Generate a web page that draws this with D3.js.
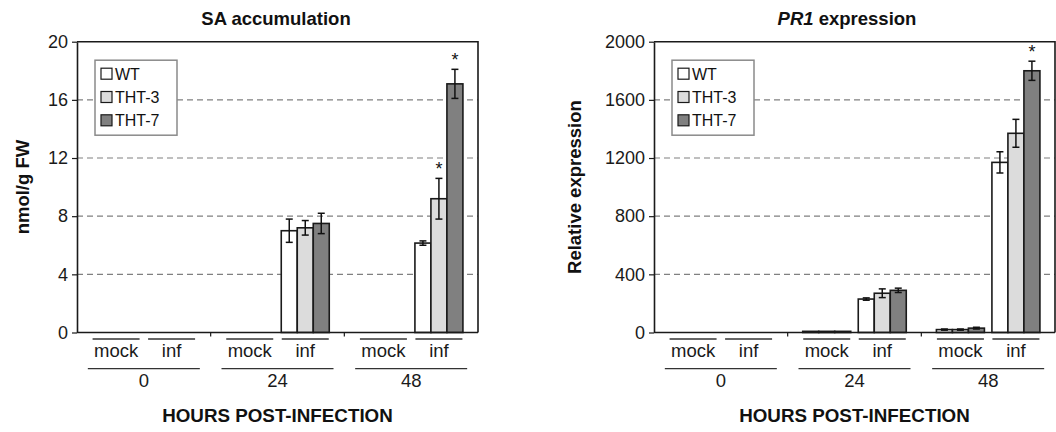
<!DOCTYPE html>
<html>
<head>
<meta charset="utf-8">
<script src="https://cdn.jsdelivr.net/npm/d3@7"></script>
<style>
  html, body { margin: 0; padding: 0; background: #fff; }
  svg { display: block; font-family: "Liberation Sans", Arial, sans-serif; }
</style>
</head>
<body>
<svg id="chart" width="1056" height="432"></svg>
<script>
// categories
const timepoints = ['0', '24', '48'];
const treatments = ['mock', 'inf'];
const genotypes = ['WT', 'THT-3', 'THT-7'];
const genotypeFill = ['#ffffff', '#dcdcdc', '#808080'];

// bar order: 0 mock, 0 inf, 24 mock, 24 inf, 48 mock, 48 inf
const saWT = [0, 0, 0, 7.0, 0, 6.15];
const saWTErr = [0, 0, 0, 0.8, 0, 0.15];
const saTHT3 = [0, 0, 0, 7.2, 0, 9.2];
const saTHT3Err = [0, 0, 0, 0.5, 0, 1.4];
const saTHT7 = [0, 0, 0, 7.5, 0, 17.1];
const saTHT7Err = [0, 0, 0, 0.7, 0, 1.0];
const saStars = [[], [5], [5]];
const saTicks = [0, 4, 8, 12, 16, 20];

const prWT = [0, 0, 8, 230, 20, 1170];
const prWTErr = [0, 0, 0, 8, 4, 73];
const prTHT3 = [0, 0, 8, 270, 20, 1370];
const prTHT3Err = [0, 0, 0, 30, 4, 96];
const prTHT7 = [0, 0, 8, 290, 30, 1800];
const prTHT7Err = [0, 0, 0, 15, 6, 66];
const prStars = [[], [], [5]];
const prTicks = [0, 400, 800, 1200, 1600, 2000];

const svg = d3.select('#chart');
const plotTop = 41.7;
const plotBottom = 332.5;
const ink = '#1a1a1a';

function drawPanel(p) {
  const g = svg.append('g');

  const yScale = d3.scaleLinear()
    .domain([0, d3.max(p.ticks)])
    .range([plotBottom, plotTop]);

  const xGroup = d3.scaleBand()
    .domain(timepoints)
    .range([p.left, p.right]);

  const xTreat = d3.scalePoint()
    .domain(treatments)
    .range([0, xGroup.bandwidth()])
    .padding(0.704);

  const xGeno = d3.scaleBand()
    .domain(genotypes)
    .range([-24, 24]);

  const catX = i => xGroup(timepoints[Math.floor(i / 2)]) + xTreat(treatments[i % 2]);

  // dashed grid
  g.append('g')
    .selectAll('line')
    .data(p.ticks.filter(t => t > 0 && t < d3.max(p.ticks)))
    .enter()
    .append('line')
    .attr('x1', p.left)
    .attr('x2', p.right)
    .attr('y1', d => yScale(d))
    .attr('y2', d => yScale(d))
    .attr('stroke', '#808080')
    .attr('stroke-width', 1.2)
    .attr('stroke-dasharray', '6,4');

  // bars
  const bars = [];
  p.series.forEach((vals, s) => {
    vals.forEach((v, i) => {
      bars.push({ s, i, v, err: p.errs[s][i], star: p.stars[s].includes(i) });
    });
  });
  const shown = bars.filter(d => d.v > 0);

  g.append('g')
    .selectAll('rect')
    .data(shown)
    .enter()
    .append('rect')
    .attr('x', d => catX(d.i) + xGeno(genotypes[d.s]))
    .attr('y', d => yScale(d.v))
    .attr('width', xGeno.bandwidth())
    .attr('height', d => yScale(0) - yScale(d.v))
    .attr('fill', d => genotypeFill[d.s])
    .attr('stroke', ink)
    .attr('stroke-width', 1.6);

  // error bars
  const eb = g.append('g')
    .selectAll('g')
    .data(shown.filter(d => d.err > 0))
    .enter()
    .append('g')
    .attr('stroke', '#111')
    .attr('stroke-width', 1.5);
  const cx = d => catX(d.i) + xGeno(genotypes[d.s]) + xGeno.bandwidth() / 2;
  eb.append('line')
    .attr('x1', cx).attr('x2', cx)
    .attr('y1', d => yScale(d.v + d.err))
    .attr('y2', d => yScale(d.v - d.err));
  eb.append('line')
    .attr('x1', d => cx(d) - 3.5).attr('x2', d => cx(d) + 3.5)
    .attr('y1', d => yScale(d.v + d.err))
    .attr('y2', d => yScale(d.v + d.err));
  eb.append('line')
    .attr('x1', d => cx(d) - 3.5).attr('x2', d => cx(d) + 3.5)
    .attr('y1', d => yScale(d.v - d.err))
    .attr('y2', d => yScale(d.v - d.err));

  // significance stars
  g.append('g')
    .selectAll('text')
    .data(shown.filter(d => d.star))
    .enter()
    .append('text')
    .attr('x', cx)
    .attr('y', d => yScale(d.v + d.err) - 3)
    .attr('text-anchor', 'middle')
    .attr('font-size', '18px')
    .attr('fill', '#111')
    .text('*');

  // frame: top + right border
  g.append('path')
    .attr('d', `M${p.left},${plotTop}H${p.right}V${plotBottom}`)
    .attr('fill', 'none')
    .attr('stroke', ink)
    .attr('stroke-width', 1.6);

  // y axis
  const yAxis = g.append('g')
    .attr('transform', `translate(${p.left},0)`)
    .call(d3.axisLeft(yScale).tickValues(p.ticks).tickFormat(d3.format('d'))
      .tickSize(5).tickPadding(4).tickSizeOuter(0));
  yAxis.select('.domain').attr('stroke', ink).attr('stroke-width', 1.6);
  yAxis.selectAll('.tick line').attr('stroke', ink).attr('stroke-width', 1.2);
  yAxis.selectAll('text')
    .attr('font-family', '"Liberation Sans", Arial, sans-serif')
    .attr('font-size', '18px')
    .attr('fill', '#1a1a1a');

  // x baseline with group separators
  g.append('line')
    .attr('x1', p.left).attr('x2', p.right)
    .attr('y1', plotBottom).attr('y2', plotBottom)
    .attr('stroke', ink)
    .attr('stroke-width', 1.6);
  g.append('g')
    .selectAll('line')
    .data(timepoints.slice(1))
    .enter()
    .append('line')
    .attr('x1', d => xGroup(d)).attr('x2', d => xGroup(d))
    .attr('y1', plotBottom).attr('y2', plotBottom + 4)
    .attr('stroke', ink)
    .attr('stroke-width', 1.2);

  // treatment labels with bars over them
  const cats = d3.range(timepoints.length * treatments.length);
  g.append('g')
    .selectAll('line')
    .data(cats)
    .enter()
    .append('line')
    .attr('x1', d => catX(d) - 23.5).attr('x2', d => catX(d) + 23.5)
    .attr('y1', 339).attr('y2', 339)
    .attr('stroke', '#333')
    .attr('stroke-width', 1.3);
  g.append('g')
    .selectAll('text')
    .data(cats)
    .enter()
    .append('text')
    .attr('x', d => catX(d))
    .attr('y', 356.5)
    .attr('text-anchor', 'middle')
    .attr('font-size', '18.5px')
    .attr('fill', '#1a1a1a')
    .text(d => treatments[d % 2]);

  // timepoint labels
  const gx = d => xGroup(d) + xGroup.bandwidth() / 2;
  g.append('g')
    .selectAll('line')
    .data(timepoints)
    .enter()
    .append('line')
    .attr('x1', d => gx(d) - 56).attr('x2', d => gx(d) + 56)
    .attr('y1', 368.7).attr('y2', 368.7)
    .attr('stroke', '#333')
    .attr('stroke-width', 1.3);
  g.append('g')
    .selectAll('text')
    .data(timepoints)
    .enter()
    .append('text')
    .attr('x', gx)
    .attr('y', 386.5)
    .attr('text-anchor', 'middle')
    .attr('font-size', '18.5px')
    .attr('fill', '#1a1a1a')
    .text(d => d);

  // x axis title
  g.append('text')
    .attr('x', (p.left + p.right) / 2)
    .attr('y', 421.5)
    .attr('text-anchor', 'middle')
    .attr('font-size', '18.8px')
    .attr('font-weight', 'bold')
    .attr('fill', '#111')
    .text('HOURS POST-INFECTION');

  // y axis title
  g.append('text')
    .attr('transform', 'rotate(-90)')
    .attr('x', -(plotTop + plotBottom) / 2)
    .attr('y', p.yLabelX)
    .attr('text-anchor', 'middle')
    .attr('font-size', '18.5px')
    .attr('font-weight', 'bold')
    .attr('fill', '#111')
    .text(p.yLabel);

  // title
  const title = g.append('text')
    .attr('x', p.titleX)
    .attr('y', 25)
    .attr('text-anchor', 'middle')
    .attr('font-size', '18.5px')
    .attr('font-weight', 'bold')
    .attr('fill', '#111');
  p.title.forEach(part => {
    title.append('tspan')
      .attr('font-style', part.italic ? 'italic' : null)
      .text(part.text);
  });

  // legend
  const lx = p.left + 18;
  const ly = plotTop + 18.5;
  const legend = g.append('g').attr('transform', `translate(${lx},${ly})`);
  legend.append('rect')
    .attr('width', 82)
    .attr('height', 75)
    .attr('fill', '#fff')
    .attr('stroke', '#8a8a8a')
    .attr('stroke-width', 1.5);
  const rows = legend.selectAll('g.row')
    .data(genotypes)
    .enter()
    .append('g')
    .attr('class', 'row')
    .attr('transform', (d, i) => `translate(6,${13.5 + i * 23.3})`);
  rows.append('rect')
    .attr('x', 0)
    .attr('y', -5.5)
    .attr('width', 11)
    .attr('height', 11)
    .attr('fill', (d, i) => genotypeFill[i])
    .attr('stroke', ink)
    .attr('stroke-width', 1.2);
  rows.append('text')
    .attr('x', 14)
    .attr('y', 5.8)
    .attr('font-size', '16px')
    .attr('fill', '#111')
    .text(d => d);
}

drawPanel({
  left: 77,
  right: 478,
  ticks: saTicks,
  series: [saWT, saTHT3, saTHT7],
  errs: [saWTErr, saTHT3Err, saTHT7Err],
  stars: saStars,
  title: [{ text: 'SA accumulation' }],
  titleX: 276,
  yLabel: 'nmol/g FW',
  yLabelX: 28.5
});

drawPanel({
  left: 654,
  right: 1055,
  ticks: prTicks,
  series: [prWT, prTHT3, prTHT7],
  errs: [prWTErr, prTHT3Err, prTHT7Err],
  stars: prStars,
  title: [{ text: 'PR1', italic: true }, { text: ' expression' }],
  titleX: 847,
  yLabel: 'Relative expression',
  yLabelX: 581
});
</script>
</body>
</html>
